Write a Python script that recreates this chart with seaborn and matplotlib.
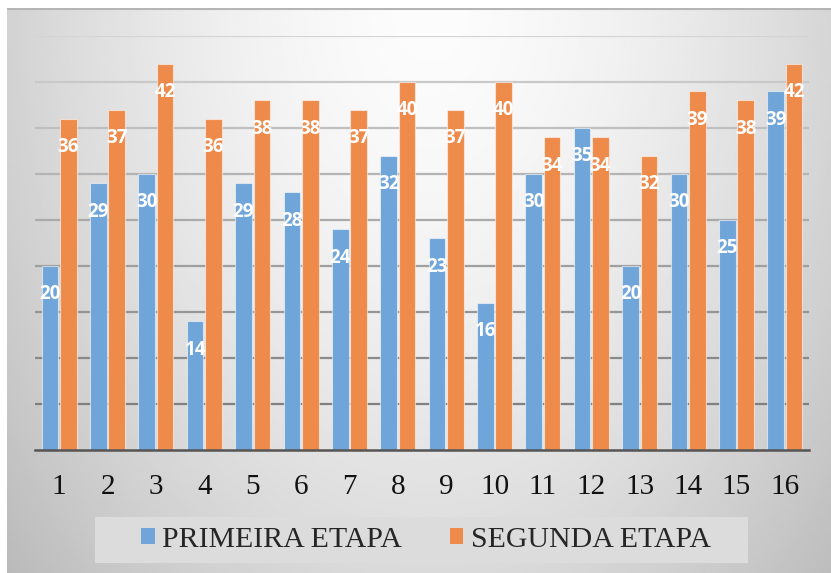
import numpy as np
import pandas as pd
import seaborn as sns
import matplotlib
matplotlib.use("Agg")
import matplotlib.pyplot as plt
from matplotlib.patches import Rectangle

# Scores per participant in each stage
participantes = [str(i) for i in range(1, 17)]
primeira_etapa = [20, 29, 30, 14, 29, 28, 24, 32, 23, 16, 30, 35, 20, 30, 25, 39]
segunda_etapa = [36, 37, 42, 36, 38, 38, 37, 40, 37, 40, 34, 34, 32, 39, 38, 42]
etapas = ["PRIMEIRA ETAPA", "SEGUNDA ETAPA"]

df = pd.DataFrame({
    "participante": participantes * 2,
    "valor": primeira_etapa + segunda_etapa,
    "etapa": [etapas[0]] * len(participantes) + [etapas[1]] * len(participantes),
})

sns.set_theme(style="white")
W, H = 831, 573
fig = plt.figure(figsize=(W / 100, H / 100), dpi=100)
fig.patch.set_facecolor("white")

# Soft radial grey background of the chart area
bg = fig.add_axes([7 / W, 0, 1 - 7 / W, (H - 8) / H], zorder=-10)
xs = np.linspace(7, W, 400)
ys = np.linspace(8, H, 300)
X, Y = np.meshgrid(xs, ys)
r = np.sqrt(((X - 430) / 520) ** 2 + (Y / 800) ** 2)
shade = np.clip(252 - 58 * r ** 1.6, 180, 252) / 255
bg.imshow(shade, cmap="gray", vmin=0, vmax=1, aspect="auto",
          extent=[0, 1, 0, 1], interpolation="bilinear")
bg.plot([0, 1], [0.999, 0.999], color="#b5b5b5", lw=1.5, transform=bg.transAxes)
bg.set_axis_off()

ax = fig.add_axes([35 / W, 1 - 450 / H, (809 - 35) / W, (450 - 36) / H])
ax.set_facecolor("none")

palette = {etapas[0]: "#6fa5d8", etapas[1]: "#ee8b4b"}
sns.barplot(data=df, x="participante", y="valor", hue="etapa",
            order=participantes, hue_order=etapas, palette=palette,
            width=0.76, gap=0.1, saturation=1, ax=ax,
            edgecolor=(1, 1, 1, 0.55), linewidth=0.8, zorder=3)

ax.set_ylim(0, 45)
ax.set_xlim(-0.5, len(participantes) - 0.5)

# Horizontal gridlines, lighter towards the top
levels = list(range(5, 46, 5))
for lv in levels:
    t = (lv - 5) / 40
    g = 0.50 + 0.33 * t
    ax.axhline(lv, color=(g, g, g), lw=1.6, zorder=1)

# Value labels inside the top of each bar
for cont, vals in zip(ax.containers, [primeira_etapa, segunda_etapa]):
    for bar, v in zip(cont, vals):
        ax.annotate(str(v), (bar.get_x() + bar.get_width() / 2, v),
                    xytext=(0, -24), textcoords="offset points",
                    ha="center", va="baseline", color="white",
                    fontsize=13.5, fontweight="bold", family="Open Sans",
                    zorder=5)

for s in ["top", "left", "right"]:
    ax.spines[s].set_visible(False)
ax.spines["bottom"].set_color("#555555")
ax.spines["bottom"].set_linewidth(1.8)
ax.spines["bottom"].set_zorder(4)
ax.set_yticks([])
ax.set_xlabel("")
ax.set_ylabel("")
ax.tick_params(axis="x", length=0, pad=17)
for lbl in ax.get_xticklabels():
    lbl.set_fontfamily("Liberation Serif")
    lbl.set_fontsize(21)
    lbl.set_color("#111111")

handles, labels = ax.get_legend_handles_labels()
if ax.get_legend() is not None:
    ax.get_legend().remove()

# Legend panel
fig.patches.append(Rectangle((95 / W, 1 - 563 / H), (748 - 95) / W, 46 / H,
                             transform=fig.transFigure, facecolor="#dcdcdc",
                             edgecolor="none", zorder=0))
leg = fig.legend(handles, labels, loc="center",
                 bbox_to_anchor=(426 / W, 1 - 540 / H), ncol=2, frameon=False,
                 prop={"family": "Liberation Serif", "size": 21.5},
                 handlelength=0.45, handleheight=0.45, handletextpad=0.25,
                 columnspacing=1.6)
for h in leg.legend_handles:
    h.set_edgecolor("none")

fig.savefig("out.png", dpi=100)
